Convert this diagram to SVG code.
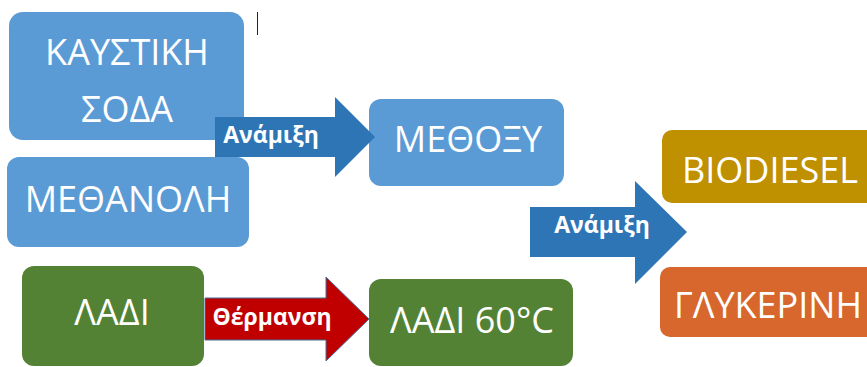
<svg xmlns="http://www.w3.org/2000/svg" width="867" height="367" viewBox="0 0 867 367">
<style>
.t{font-family:"Open Sans","Noto Sans","Liberation Sans",sans-serif;font-size:36px;fill:#fff;text-anchor:middle}
.l{font-family:"Open Sans","Noto Sans","Liberation Sans",sans-serif;font-size:23px;font-weight:bold;fill:#fff;text-anchor:middle}
.blue{fill:#5B9BD5}
.green{fill:#548235}
.ab{fill:#2E75B6}
.ar{fill:#C00000;stroke:#41719C;stroke-width:1}
</style>
<rect width="867" height="367" fill="#fff"/>
<line x1="257.5" y1="12" x2="257.5" y2="35" stroke="#222" stroke-width="1"/>
<g id="soda">
<rect class="blue" x="9" y="12" width="235" height="128" rx="14"/>
<text class="t" x="127" y="65">ΚΑΥΣΤΙΚΗ</text>
<text class="t" x="127" y="122">ΣΟΔΑ</text>
</g>
<g id="methanol">
<rect class="blue" x="7" y="157" width="242" height="90" rx="12"/>
<text class="t" x="128" y="212">ΜΕΘΑΝΟΛΗ</text>
</g>
<g id="methoxy">
<rect class="blue" x="369" y="99" width="195" height="87" rx="12"/>
<text class="t" x="468" y="152">ΜΕΘΟΞΥ</text>
</g>
<g id="oil">
<rect class="green" x="22" y="266" width="182" height="100" rx="12"/>
<text class="t" x="112" y="325">ΛΑΔΙ</text>
</g>
<g id="oil60">
<rect class="green" x="369" y="279" width="204" height="87" rx="12"/>
<text class="t" x="472" y="333">ΛΑΔΙ 60°C</text>
</g>
<g id="biodiesel">
<rect fill="#BF9000" x="662" y="130" width="220" height="73" rx="10"/>
<text class="t" x="770" y="183">BIODIESEL</text>
</g>
<g id="glycerin">
<rect fill="#D7672C" x="660" y="267" width="220" height="70" rx="10"/>
<text class="t" x="768" y="318">ΓΛΥΚΕΡΙΝΗ</text>
</g>
<g id="connectors">
<g id="mix1">
<polygon class="ab" points="215,117 335,117 335,97 375,137 335,177 335,157 215,157"/>
<text class="l" x="271" y="143">Ανάμιξη</text>
</g>
<g id="heat">
<polygon class="ar" points="205,298 326,298 326,277 369,319 326,361 326,340 205,340"/>
<text class="l" x="272" y="325">Θέρμανση</text>
</g>
<g id="mix2">
<polygon class="ab" points="530,207 635,207 635,181 687,232 635,284 635,257 530,257"/>
<text class="l" x="602" y="233">Ανάμιξη</text>
</g>
</g>
</svg>
